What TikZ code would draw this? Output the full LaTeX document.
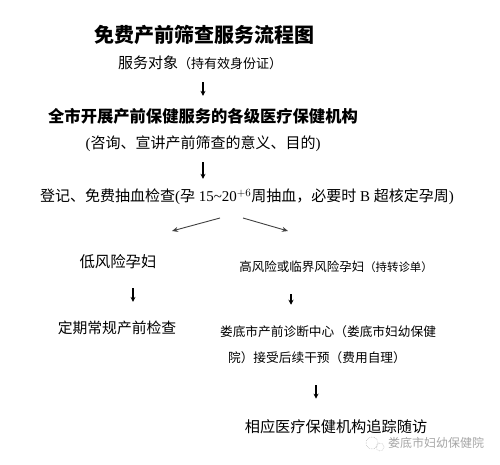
\documentclass[tikz,border=0pt]{standalone}
\usepackage{fontspec}
\setmainfont{Liberation Serif}
\newfontfamily\cjk{Noto Sans CJK SC}
\usetikzlibrary{arrows.meta}
\tikzset{
  step text/.style={inner sep=0pt, font=\cjk},
  down/.style={-{Stealth[length=5pt,width=5pt]}, line width=1.1pt, shorten <=#1, shorten >=#1},
  down/.default=12pt,
  split/.style={-{Stealth[length=6pt,width=5pt]}, line width=0.9pt, black!75}
}
\begin{document}
\begin{tikzpicture}[x=1pt,y=-1pt]
        \useasboundingbox (0,0) rectangle (500,465);

        % Draw title and first steps
        \node[step text, font=\cjk\bfseries\fontsize{20}{24}\selectfont] (title) at (204,35) {免费产前筛查服务流程图};
        \node[step text] (object) at (200,63) {\fontsize{15}{18}\selectfont 服务对象\fontsize{13}{15}\selectfont（持有效身份证）};
        \node[step text, font=\cjk\bfseries\fontsize{16.3}{20}\selectfont] (org) at (203,116) {全市开展产前保健服务的各级医疗保健机构};
        \node[step text, font=\fontsize{15}{18}\selectfont] (purpose) at (203,144) {({\cjk 咨询、宣讲产前筛查的意义、目的})};

        % Draw registration and blood test
        \node[step text, font=\fontsize{15}{18}\selectfont] (register) at (247,197) {{\cjk 登记、免费抽血检查}({\cjk 孕} 15\textasciitilde20$^{+6}${\cjk 周抽血，必要时} B {\cjk 超核定孕周})};

        % Draw the two branches
        \node[step text, font=\cjk\fontsize{15.4}{18}\selectfont] (low) at (118,262) {低风险孕妇};
        \node[step text] (high) at (336,267) {\fontsize{12.5}{16}\selectfont 高风险或临界风险孕妇\fontsize{11.4}{14}\selectfont（持转诊单）};
        \node[step text, font=\cjk\fontsize{14.8}{18}\selectfont] (routine) at (117,328) {定期常规产前检查};
        \node[step text, font=\cjk\fontsize{12.7}{16}\selectfont, align=left] (centre) at (328,345) {娄底市产前诊断中心（娄底市妇幼保健\\[10pt]\hspace*{8pt}院）接受后续干预（费用自理）};
        \node[step text, font=\cjk\fontsize{15.2}{18}\selectfont] (follow) at (336,427) {相应医疗保健机构追踪随访};

        % Draw watermark
        \node[step text, font=\cjk\fontsize{12}{14}\selectfont, text=black!35] (mark) at (436,443) {娄底市妇幼保健院};
        \draw[black!25, line width=0.6pt, densely dotted] (372,443) circle (6pt) (380,447) circle (4pt);

        % Draw arrows
        \coordinate (left from) at (220,218);
        \coordinate (left to) at (172,231);
        \coordinate (right from) at (243,218);
        \coordinate (right to) at (288,231);
        \draw[down] (object.south -| org.north) -- (org.north);
        \draw[down=10pt] (purpose.south) -- (purpose.south |- register.north);
        \draw[split] (left from) -- (left to);
        \draw[split] (right from) -- (right to);
        \draw[down=19pt] ([xshift=15pt]low.south) -- ([xshift=15pt]low.south |- routine.north);
        \draw[down=21pt] ([xshift=-45pt]high.south) -- ([xshift=-45pt]high.south |- centre.north);
        \draw[down=21pt] ([xshift=-12pt]centre.south) -- ([xshift=-12pt]centre.south |- follow.north);
    \end{tikzpicture}
\end{document}
